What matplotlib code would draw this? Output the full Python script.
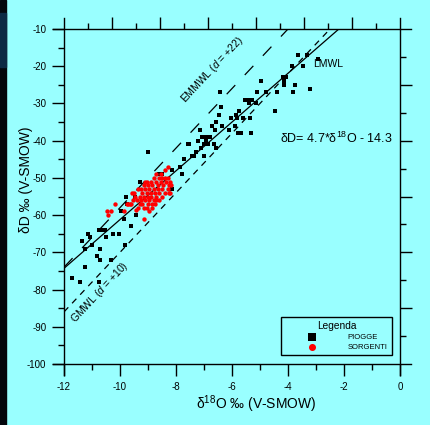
import numpy as np
import matplotlib
matplotlib.use("Agg")
import matplotlib.pyplot as plt
from matplotlib.lines import Line2D
from matplotlib.patches import Rectangle

plt.rcParams["font.family"] = ["Liberation Sans", "DejaVu Sans"]
plt.rcParams["mathtext.fontset"] = "custom"
plt.rcParams["mathtext.rm"] = "Liberation Sans"
plt.rcParams["mathtext.it"] = "Liberation Sans:italic"
plt.rcParams["lines.scale_dashes"] = False

# rain samples (PIOGGE)
piogge_o18 = [-12.2, -11.7, -11.42, -11.35, -11.26, -11.25, -11.14, -11.06, -10.99, -10.82,
              -10.75, -10.75, -10.71, -10.70, -10.6, -10.51, -10.54, -10.31, -10.25, -10.04,
              -9.98, -9.85, -9.82, -9.80, -9.76, -9.60, -9.48, -9.42, -9.27, -8.99,
              -8.60, -8.49, -8.15, -8.13, -7.87, -7.77, -7.70, -7.57, -7.54, -7.42,
              -7.36, -7.27, -7.2, -7.15, -7.12, -7.08, -7.0, -6.99, -6.94, -6.92,
              -6.87, -6.77, -6.73, -6.64, -6.62, -6.58, -6.56, -6.48, -6.42, -6.38,
              -6.35, -6.11, -6.04, -5.90, -5.85, -5.82, -5.77, -5.74, -5.68, -5.61,
              -5.55, -5.44, -5.38, -5.37, -5.33, -5.29, -5.13, -5.10, -4.96, -4.77,
              -4.45, -4.38, -4.19, -4.15, -4.13, -4.06, -3.82, -3.85, -3.74, -3.65,
              -3.45, -3.31, -3.23, -2.93]
piogge_d = [-79, -77, -78, -67, -74, -69, -65, -66, -68, -71,
            -64, -78, -69, -72, -64, -66, -64, -72, -65, -65,
            -59, -61, -68, -55, -57, -63, -55, -60, -51, -43,
            -49, -49, -53, -48, -47, -49, -45, -41, -41, -44,
            -44, -43, -40, -37, -42, -39, -44, -41, -39, -40,
            -41, -39, -36, -41, -37, -42, -35, -33, -27, -31,
            -36, -37, -34, -36, -33, -34, -38, -32, -38, -34,
            -29, -29, -30, -34, -38, -29, -30, -27, -24, -27,
            -32, -27, -23, -24, -25, -23, -27, -20, -25, -17,
            -20, -17, -26, -18]

# spring samples (SORGENTI)
sorgenti_o18 = [-10.45, -10.43, -10.31, -10.19, -9.87, -9.56, -9.44, -9.14, -9.15, -8.38,
                -8.29, -8.2, -8.17,
                -9.3, -9.25, -9.2, -9.2, -9.15, -9.1, -9.1, -9.05, -9.05, -9.0,
                -9.0, -9.0, -8.95, -8.95, -8.9, -8.9, -8.9, -8.85, -8.85, -8.8,
                -8.8, -8.8, -8.75, -8.7, -8.7, -8.65, -8.65, -8.6, -8.6, -8.55,
                -8.5, -8.5, -8.45, -8.4, -8.4, -8.35, -8.3, -8.3, -8.25, -8.25,
                -8.2, -9.35, -9.3, -9.4, -9.45, -9.5, -9.55, -9.6, -9.65, -9.7,
                -9.75, -9.35, -9.15, -9.1, -9.05, -8.95, -8.85, -8.75, -8.7, -8.6,
                -9.25, -8.55, -8.5, -8.7]
sorgenti_d = [-59, -60, -59, -57, -59, -54, -58.5, -61, -58, -48,
              -47, -54, -52,
              -55, -56, -54, -57, -55, -53, -56, -51, -54, -52,
              -55, -57, -53, -56, -51, -54, -55, -52, -57, -50,
              -53, -56, -54, -51, -55, -52, -53, -50, -54, -51,
              -53, -55, -52, -50, -54, -51, -53, -50, -54, -52,
              -51, -53, -57, -56, -55, -54, -56, -57, -57, -57,
              -57, -58, -52, -51, -58, -59, -58, -57, -56, -56,
              -53, -49, -50, -49]

# meteoric water lines: (slope, intercept)
lmwl = (6.55, 4.3)
gmwl = (8.0, 10.0)
emmwl = (8.0, 22.0)

x_ticks = [-12, -10, -8, -6, -4, -2, 0]
y_ticks = [-100, -90, -80, -70, -60, -50, -40, -30, -20, -10]

BG = "#99ffff"


def draw_frame(ax):
    """
    draws the frame lines that stick out past the plot corners and the extra tick marks
    on the top and right side
    """
    ex = 11 / 336
    ey = 11 / 335
    kw = dict(transform=ax.transAxes, color="black", lw=1.0, clip_on=False)
    ax.add_line(Line2D([-ex, 1 + ex], [0, 0], **kw))
    ax.add_line(Line2D([-ex, 1 + ex], [1, 1], **kw))
    ax.add_line(Line2D([0, 0], [-ey, 1 + ey], **kw))
    ax.add_line(Line2D([1, 1], [-ey, 1 + ey], **kw))

    top = ax.twiny()
    top.set_xlim(0, 14)
    top.set_xticks([2, 4, 6, 8, 10, 12])
    top.set_xticks([1, 3, 5, 7, 9, 11, 13], minor=True)
    top.tick_params(axis="x", which="major", direction="out", length=8.5, width=1, labeltop=False)
    top.tick_params(axis="x", which="minor", direction="out", length=4.3, width=1)
    right = ax.twinx()
    right.set_ylim(0, 12)
    right.set_yticks([2, 4, 6, 8, 10])
    right.set_yticks([1, 3, 5, 7, 9, 11], minor=True)
    right.tick_params(axis="y", which="major", direction="out", length=8.5, width=1, labelright=False)
    right.tick_params(axis="y", which="minor", direction="out", length=4.3, width=1)
    for a in (top, right):
        for s in a.spines.values():
            s.set_visible(False)
        a.set_facecolor("none")


def main():
    fig = plt.figure(figsize=(4.3, 4.25), dpi=100, facecolor=BG)
    # dark screen edge on the left
    fig.add_artist(Rectangle((0, 0), 6 / 430, 1, transform=fig.transFigure,
                             color="#03070c", zorder=0))
    fig.add_artist(Rectangle((0, (425 - 67) / 425), 6 / 430, 54 / 425,
                             transform=fig.transFigure, color="#0c2a44", zorder=0))

    ax = fig.add_axes([64 / 430, 61 / 425, 336 / 430, 335 / 425])
    ax.set_facecolor("none")
    ax.set_xlim(-12, 0)
    ax.set_ylim(-100, -10)

    xs = np.array([-12.0, 0.0])
    ax.plot(xs, lmwl[0] * xs + lmwl[1], color="black", lw=0.9)
    ax.plot(xs, gmwl[0] * xs + gmwl[1], color="black", lw=0.9, dashes=(4.5, 4))
    ax.plot(xs, emmwl[0] * xs + emmwl[1], color="black", lw=0.9, dashes=(9, 10))

    sq = ax.scatter(piogge_o18, piogge_d, marker="s", s=12, color="black",
                    linewidths=0, label="PIOGGE", zorder=3)
    ci = ax.scatter(sorgenti_o18, sorgenti_d, marker="o", s=10, color="red",
                    linewidths=0, label="SORGENTI", zorder=4)

    for s in ax.spines.values():
        s.set_visible(False)
    ax.set_xticks(x_ticks)
    ax.set_xticks(np.arange(-11, 0, 2), minor=True)
    ax.set_yticks(y_ticks)
    ax.set_yticks(np.arange(-95, -10, 10), minor=True)
    ax.tick_params(which="major", direction="out", length=8.3, width=1,
                   labelsize=7, colors="black", pad=4.5)
    ax.tick_params(which="minor", direction="out", length=4, width=1)
    ax.set_xticklabels([str(t) for t in x_ticks])
    ax.set_yticklabels([str(t) for t in y_ticks])
    draw_frame(ax)

    ax.text(0.571, -0.119, "\u03b4$^{18}$O \u2030 (V-SMOW)", transform=ax.transAxes,
            ha="center", va="center", fontsize=10)
    ax.text(-0.113, 0.549, "\u03b4D \u2030 (V-SMOW)", transform=ax.transAxes,
            ha="center", va="center", fontsize=10, rotation=90)

    ax.text(-6.71, -21.0, "EMMWL ($d$ = +22)", fontsize=7.5, rotation=47,
            rotation_mode="anchor", ha="center", va="center")
    ax.text(-10.71, -80.7, "GMWL ($d$ = +10)", fontsize=7.5, rotation=47,
            rotation_mode="anchor", ha="center", va="center")
    ax.text(-3.11, -19.4, "LMWL", fontsize=7.5, ha="left", va="center")
    ax.text(-4.29, -39.3, "\u03b4D= 4.7*\u03b4$^{18}$O - 14.3", fontsize=9,
            ha="left", va="center")

    leg = ax.legend(handles=[sq, ci], title="Legenda", loc="lower right",
                    bbox_to_anchor=(0.976, 0.027), fontsize=5.5, title_fontsize=7.3,
                    frameon=True, fancybox=False, edgecolor="black", facecolor="none",
                    framealpha=1, borderpad=0.55, handlelength=7.0, handletextpad=1.2,
                    labelspacing=0.35, borderaxespad=0, markerscale=1.6)
    leg.get_frame().set_linewidth(1.0)

    fig.savefig("out.png", dpi=100, facecolor=BG)


if __name__ == "__main__":
    main()
